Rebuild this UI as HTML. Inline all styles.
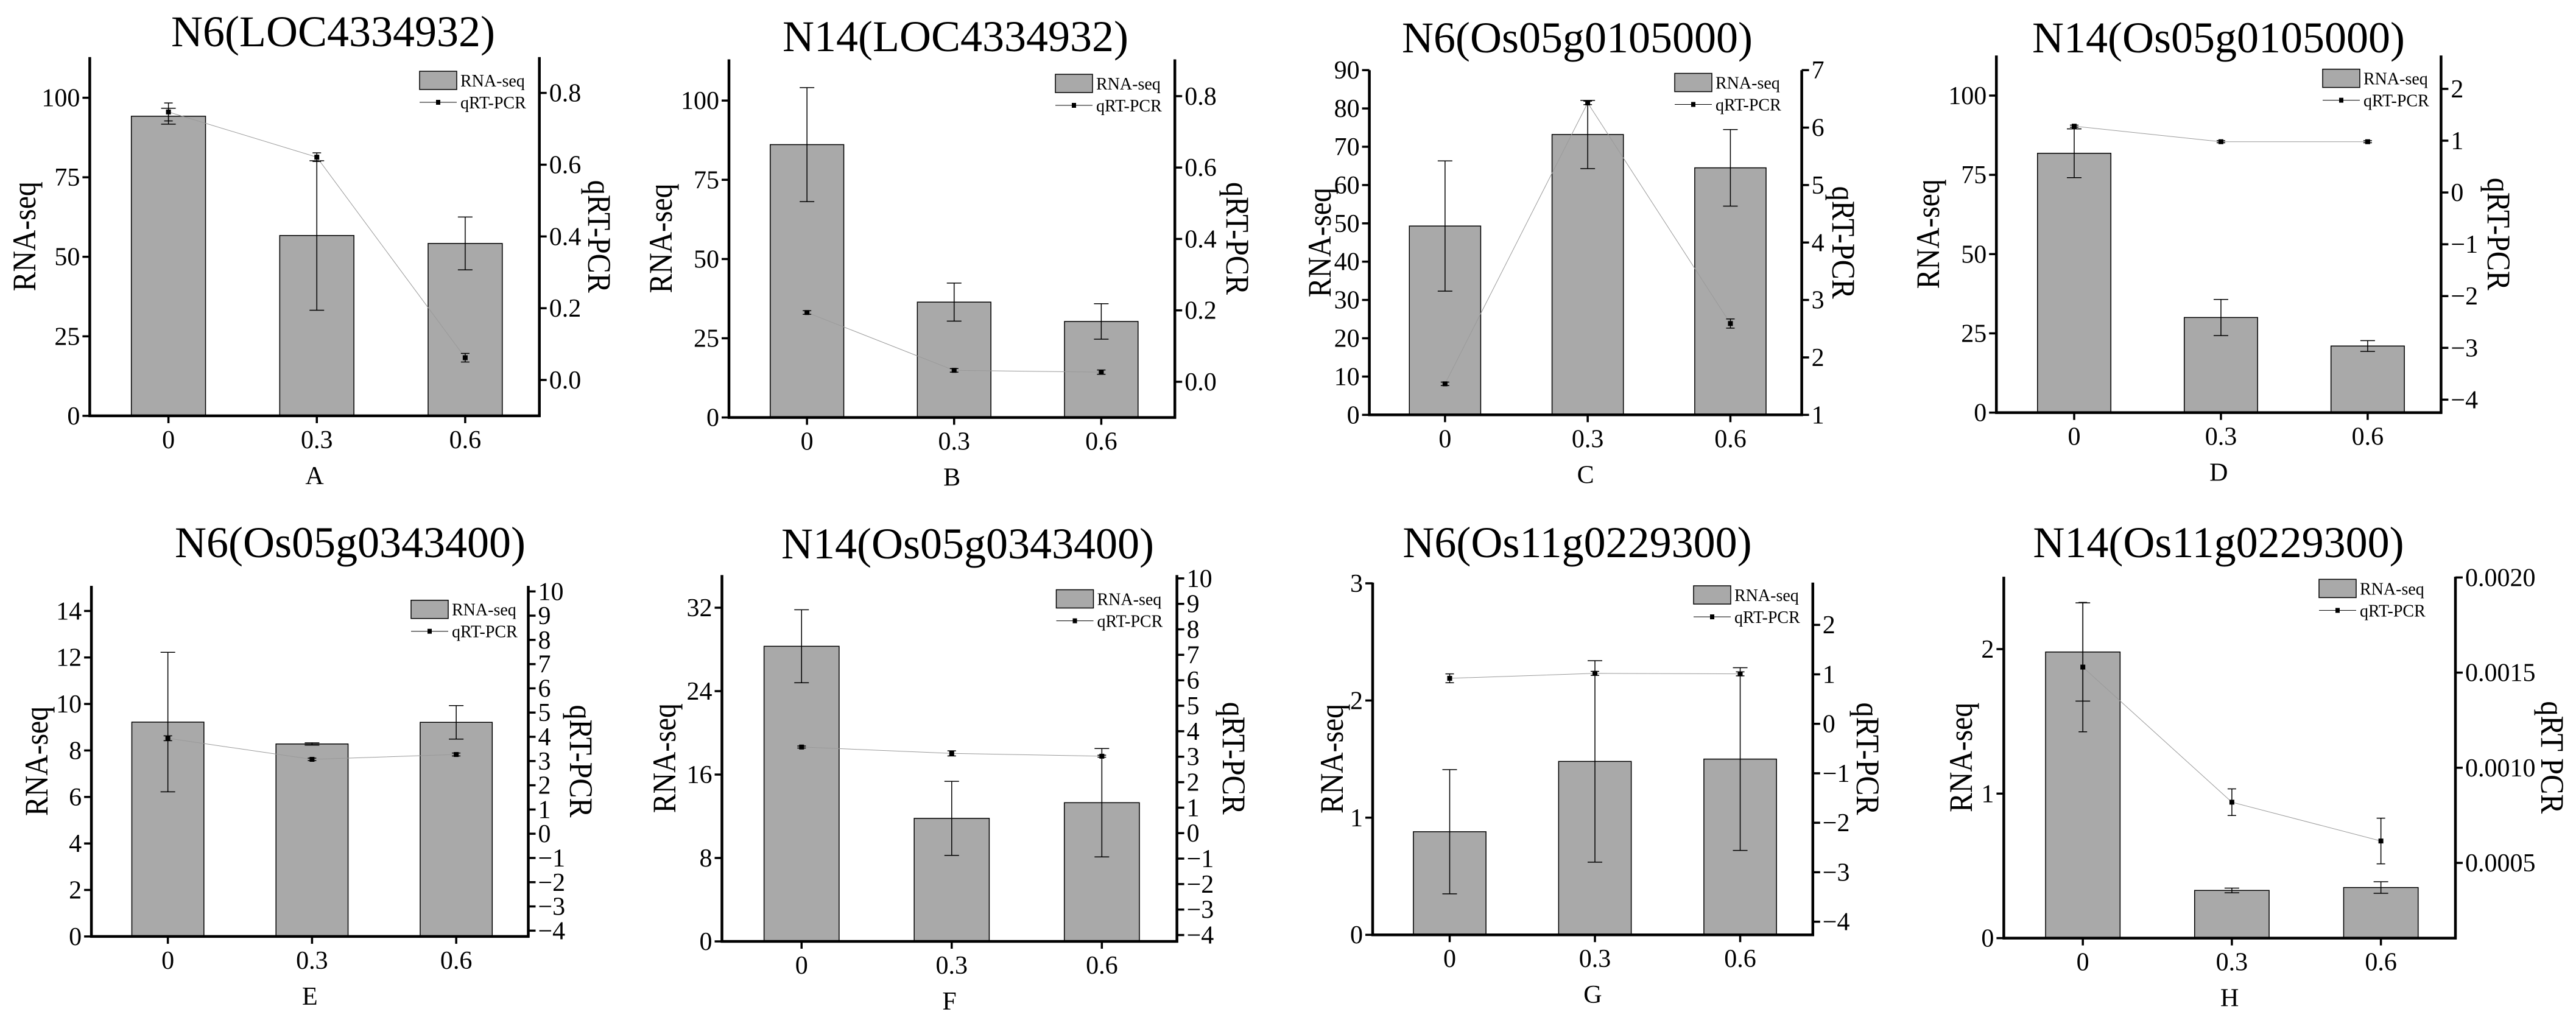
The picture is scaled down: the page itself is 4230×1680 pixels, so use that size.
<!DOCTYPE html>
<html><head><meta charset="utf-8"><title>RNA-seq vs qRT-PCR</title>
<style>
html,body{margin:0;padding:0;background:#fff;}
svg{display:block;}
text{font-family:"Liberation Serif","DejaVu Serif",serif;}
</style></head>
<body>
<svg id="chart" xmlns="http://www.w3.org/2000/svg" width="4230" height="1680" viewBox="0 0 4230 1680" font-family="'Liberation Serif', 'DejaVu Serif', serif">
<rect x="0" y="0" width="4230" height="1680" fill="#fff"/>
</svg>
<script>
// ---- data ----
const categories = ["0", "0.3", "0.6"];
const panelTitles = ["N6(LOC4334932)", "N14(LOC4334932)", "N6(Os05g0105000)", "N14(Os05g0105000)",
  "N6(Os05g0343400)", "N14(Os05g0343400)", "N6(Os11g0229300)", "N14(Os11g0229300)"];
const panelLetters = ["A", "B", "C", "D", "E", "F", "G", "H"];
const rnaSeq = [[94.2, 56.7, 54.2], [86.1, 36.4, 30.3], [49.3, 73.2, 64.5], [81.8, 30.0, 21.0],
  [9.22, 8.28, 9.21], [28.3, 11.8, 13.3], [0.88, 1.48, 1.50], [1.98, 0.33, 0.35]];
const rnaSeqErr = [[2.5, 23.5, 8.3], [18, 6, 5.6], [17, 8.9, 10], [7.7, 5.7, 1.7],
  [3.0, 0.05, 0.72], [3.5, 3.55, 5.2], [0.53, 0.86, 0.78], [0.34, 0.016, 0.04]];
const qpcr = [[0.747, 0.621, 0.062], [0.194, 0.032, 0.027], [1.54, 6.43, 2.59], [1.28, 0.98, 0.98],
  [3.94, 3.07, 3.27], [3.38, 3.13, 3.02], [0.92, 1.02, 1.01], [0.001529, 0.000819, 0.000615]];
const qpcrErr = [[0.025, 0.012, 0.012], [0.005, 0.005, 0.006], [0.03, 0.03, 0.08], [0.02, 0.02, 0.02],
  [0.1, 0.05, 0.06], [0.04, 0.1, 0.04], [0.09, 0.04, 0.04], [0.00034, 0.00007, 0.00012]];
const leftTicks = [[0, 25, 50, 75, 100], [0, 25, 50, 75, 100], [0, 10, 20, 30, 40, 50, 60, 70, 80, 90], [0, 25, 50, 75, 100],
  [0, 2, 4, 6, 8, 10, 12, 14], [0, 8, 16, 24, 32], [0, 1, 2, 3], [0, 1, 2]];
const rightTicks = [[0, 0.2, 0.4, 0.6, 0.8], [0, 0.2, 0.4, 0.6, 0.8], [1, 2, 3, 4, 5, 6, 7], [-4, -3, -2, -1, 0, 1, 2],
  [-4, -3, -2, -1, 0, 1, 2, 3, 4, 5, 6, 7, 8, 9, 10], [-4, -3, -2, -1, 0, 1, 2, 3, 4, 5, 6, 7, 8, 9, 10],
  [-4, -3, -2, -1, 0, 1, 2], [0.0005, 0.001, 0.0015, 0.002]];
const rightDecimals = [1, 1, 0, 0, 0, 0, 0, 4];
const leftDomain = [[0, 112.8], [0, 113], [0, 90], [0, 112.65], [0, 15.08], [0, 35.13], [0, 3.006], [0, 2.501]];
const rightDomain = [[-0.1, 0.9], [-0.1, 0.903], [1, 7], [-4.25, 2.645], [-4.24, 10.23], [-4.25, 10.13], [-4.265, 2.854], [0.0001046, 0.002004]];
const rightTitles = ["qRT-PCR", "qRT-PCR", "qRT-PCR", "qRT-PCR", "qRT-PCR", "qRT-PCR", "qRT-PCR", "qRT PCR"];

// ---- layout (pixel frames) ----
const frames = [
  {xL:147.4, xR:885.7, yT:93.7, yB:682.9, tx:547, ty:76, lx:44, rx:980, gx:689, gy:117},
  {xL:1197, xR:1929.2, yT:97.5, yB:685.6, tx:1569, ty:84, lx:1089, rx:2028, gx:1733, gy:122},
  {xL:2248.6, xR:2958.6, yT:115.2, yB:681.3, tx:2590, ty:86, lx:2171, rx:3023, gx:2750, gy:120.5},
  {xL:3278.2, xR:4008.4, yT:91.1, yB:677.6, tx:3643, ty:86, lx:3170, rx:4099, gx:3814, gy:113.6},
  {xL:150.1, xR:867.5, yT:962.1, yB:1537.9, tx:575, ty:915, lx:64, rx:950, gx:675, gy:985.7},
  {xL:1185.5, xR:1932.6, yT:944.4, yB:1546, tx:1589, ty:917, lx:1095, rx:2022, gx:1734.5, gy:968.5},
  {xL:2254, xR:2976.8, yT:956.8, yB:1535.2, tx:2590, ty:915, lx:2191, rx:3063, gx:2781, gy:962},
  {xL:3290.4, xR:4032, yT:947.1, yB:1540.6, tx:3643, ty:915, lx:3224, rx:4187, gx:3808, gy:951.4}
];

const NS = "http://www.w3.org/2000/svg";
const svg = document.getElementById("chart");
const FF = "'Liberation Serif', 'DejaVu Serif', serif";
function mk(tag, attrs, parent) {
  const e = document.createElementNS(NS, tag);
  for (const k in attrs) e.setAttribute(k, attrs[k]);
  if (tag === "text") e.setAttribute("font-family", FF);
  (parent || svg).appendChild(e);
  return e;
}
function fmt(v, d) {
  let s = v.toFixed(d);
  if (v < 0) s = "\u2212" + Math.abs(v).toFixed(d);
  return s;
}

for (let p = 0; p < 8; p++) {
  const f = frames[p];
  const W = f.xR - f.xL;
  const g = mk("g", {});
  
  
  const yL = v => f.yB - (v - leftDomain[p][0]) / (leftDomain[p][1] - leftDomain[p][0]) * (f.yB - f.yT);
  const yR = v => f.yB - (v - rightDomain[p][0]) / (rightDomain[p][1] - rightDomain[p][0]) * (f.yB - f.yT);
  const xC = i => f.xL + W * (0.175 + 0.33 * i);
  const bw = W * 0.165;

  const t = mk("text", {x: f.tx, y: f.ty, "font-size": 72, "text-anchor": "middle", fill: "#000"}, g);
  t.textContent = panelTitles[p];
  
  

  for (let i = 0; i < 3; i++) {
    const v = rnaSeq[p][i];
    const b = mk("rect", {x: xC(i) - bw / 2, y: yL(v), width: bw, height: f.yB - yL(v), fill: "#a9a9a9", stroke: "#000", "stroke-width": 1.5}, g);
    
    
  }
  for (let i = 0; i < 3; i++) {
    const v = rnaSeq[p][i], e = rnaSeqErr[p][i], x = xC(i);
    const eg = mk("g", {stroke: "#000", "stroke-width": 1.5}, g);
    
    
    mk("line", {x1: x, x2: x, y1: yL(v + e), y2: yL(v - e)}, eg);
    mk("line", {x1: x - 12, x2: x + 12, y1: yL(v + e), y2: yL(v + e)}, eg);
    mk("line", {x1: x - 12, x2: x + 12, y1: yL(v - e), y2: yL(v - e)}, eg);
  }
  const pts = qpcr[p].map((v, i) => xC(i) + "," + yR(v)).join(" ");
  const pl = mk("polyline", {points: pts, fill: "none", stroke: "#9a9a9a", "stroke-width": 1}, g);
  
  
  for (let i = 0; i < 3; i++) {
    const v = qpcr[p][i], e = qpcrErr[p][i], x = xC(i);
    const eg = mk("g", {stroke: "#000", "stroke-width": 1.5}, g);
    
    
    mk("line", {x1: x, x2: x, y1: yR(v + e), y2: yR(v - e)}, eg);
    mk("line", {x1: x - 7, x2: x + 7, y1: yR(v + e), y2: yR(v + e)}, eg);
    mk("line", {x1: x - 7, x2: x + 7, y1: yR(v - e), y2: yR(v - e)}, eg);
    const m = mk("rect", {x: x - 4, y: yR(v) - 4, width: 8, height: 8, fill: "#000"}, g);
    
    
  }

  const ax = mk("g", {stroke: "#000", "stroke-width": 4.5, fill: "none"}, g);
  
  
  mk("line", {x1: f.xL, x2: f.xL, y1: f.yT, y2: f.yB + 2}, ax);
  mk("line", {x1: f.xR, x2: f.xR, y1: f.yT, y2: f.yB + 2}, ax);
  mk("line", {x1: f.xL - 2, x2: f.xR + 2, y1: f.yB, y2: f.yB}, ax);

  leftTicks[p].forEach(v => {
    const y = yL(v);
    mk("line", {x1: f.xL - 12, x2: f.xL, y1: y, y2: y, stroke: "#000", "stroke-width": 3.5}, g);
    const tl = mk("text", {x: f.xL - 16, y: y + 14, "font-size": 42, "text-anchor": "end", fill: "#000"}, g);
    tl.textContent = fmt(v, 0);
    
    
  });
  rightTicks[p].forEach(v => {
    const y = yR(v);
    mk("line", {x1: f.xR, x2: f.xR + 12, y1: y, y2: y, stroke: "#000", "stroke-width": 3.5}, g);
    const tl = mk("text", {x: f.xR + 16, y: y + 14, "font-size": 42, "text-anchor": "start", fill: "#000"}, g);
    tl.textContent = fmt(v, rightDecimals[p]);
    
    
  });
  categories.forEach((c, i) => {
    const x = xC(i);
    mk("line", {x1: x, x2: x, y1: f.yB, y2: f.yB + 12, stroke: "#000", "stroke-width": 3.5}, g);
    const tl = mk("text", {x: x, y: f.yB + 53, "font-size": 42, "text-anchor": "middle", fill: "#000"}, g);
    tl.textContent = c;
    
    
  });
  const xl = mk("text", {x: (f.xL + f.xR) / 2, y: f.yB + 112, "font-size": 42, "text-anchor": "middle", fill: "#000"}, g);
  xl.textContent = panelLetters[p];
  
  

  const cy = (f.yT + f.yB) / 2;
  const lt = mk("text", {x: 0, y: 0, "font-size": 54, "text-anchor": "middle", fill: "#000",
    textLength: 180, lengthAdjust: "spacingAndGlyphs",
    transform: "translate(" + (f.lx + 14) + "," + cy + ") rotate(-90)"}, g);
  lt.textContent = "RNA-seq";
  
  
  const rt = mk("text", {x: 0, y: 0, "font-size": 54, "text-anchor": "middle", fill: "#000",
    textLength: 185, lengthAdjust: "spacingAndGlyphs",
    transform: "translate(" + (f.rx - 14) + "," + cy + ") rotate(90)"}, g);
  rt.textContent = rightTitles[p];
  
  

  const lg = mk("g", {}, g);
  
  
  mk("rect", {x: f.gx, y: f.gy, width: 61, height: 30, fill: "#a9a9a9", stroke: "#000", "stroke-width": 1.5}, lg);
  const l1 = mk("text", {x: f.gx + 67, y: f.gy + 25, "font-size": 28, fill: "#000"}, lg);
  l1.textContent = "RNA-seq";
  
  
  mk("line", {x1: f.gx, x2: f.gx + 61, y1: f.gy + 51, y2: f.gy + 51, stroke: "#000", "stroke-width": 1}, lg);
  mk("rect", {x: f.gx + 27, y: f.gy + 47, width: 7, height: 8, fill: "#000"}, lg);
  const l2 = mk("text", {x: f.gx + 67, y: f.gy + 61, "font-size": 28, fill: "#000"}, lg);
  l2.textContent = "qRT-PCR";
  
  
}
</script>
</body></html>
